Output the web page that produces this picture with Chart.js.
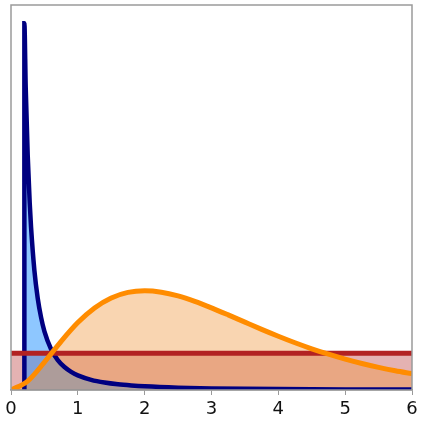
<!DOCTYPE html>
<html lang="en">
<head>
  <meta charset="UTF-8">
  <title>Distributions</title>
  <style>
    html, body { margin: 0; padding: 0; background: white; }
    #wrap { width: 423px; height: 423px; }
  </style>
</head>
<body>
  <div id="wrap"><canvas id="myChart" width="423" height="423"></canvas></div>

  <script src="https://cdn.jsdelivr.net/npm/chart.js"></script>
  <script>
    // values
    const paretoX = [0.2, 0.2, 0.22, 0.25, 0.28, 0.3, 0.35, 0.4, 0.45, 0.5, 0.6, 0.7, 0.8, 0.9, 1.0, 1.2, 1.4, 1.6, 1.8, 2.0, 2.5, 3.0, 3.5, 4.0, 5.0, 6.0];
    const paretoY = [0, 5.0, 4.13, 3.2, 2.55, 2.22, 1.63, 1.25, 0.99, 0.8, 0.556, 0.408, 0.313, 0.247, 0.2, 0.139, 0.102, 0.078, 0.062, 0.05, 0.032, 0.022, 0.016, 0.0125, 0.008, 0.0056];

    const gammaX = [0, 0.25, 0.5, 0.75, 1.0, 1.25, 1.5, 1.75, 2.0, 2.25, 2.5, 2.75, 3.0, 3.25, 3.5, 3.75, 4.0, 4.25, 4.5, 4.75, 5.0, 5.25, 5.5, 5.75, 6.0];
    const gammaY = [0, 0.122, 0.379, 0.664, 0.92, 1.119, 1.255, 1.331, 1.353, 1.334, 1.283, 1.209, 1.12, 1.024, 0.925, 0.827, 0.733, 0.644, 0.562, 0.488, 0.421, 0.362, 0.309, 0.263, 0.223];

    const flatX = [0, 6];
    const flatY = [0.5, 0.5];

    const xTicks = [0, 1, 2, 3, 4, 5, 6];

    const pts = (xs, ys) => xs.map((x, i) => ({ x, y: ys[i] }));

    const frame = {
      id: 'frame',
      afterDraw(chart) {
        const { ctx, chartArea: a } = chart;
        ctx.save();
        ctx.strokeStyle = '#9a9a9a';
        ctx.lineWidth = 1.5;
        ctx.strokeRect(a.left, a.top, a.right - a.left, a.bottom - a.top);
        ctx.restore();
      }
    };

    // shaded areas (drawn last-to-first: red, blue, orange) then the lines on top
    const area = (data, color) => ({
      data, backgroundColor: color, borderWidth: 0, fill: 'origin',
      cubicInterpolationMode: 'monotone'
    });
    const line = (data, color, w) => ({
      data, borderColor: color, borderWidth: w, fill: false,
      cubicInterpolationMode: 'monotone'
    });

    const ctx = document.getElementById('myChart');
    new Chart(ctx, {
      type: 'line',
      data: {
        datasets: [
          line(pts(gammaX, gammaY), '#ff8c00', 5),
          line(pts(flatX, flatY), '#b22222', 5),
          line(pts(paretoX, paretoY), '#000080', 4.5),
          area(pts(gammaX, gammaY), 'rgba(240,150,60,0.4)'),
          area(pts(paretoX, paretoY), 'rgba(30,144,255,0.5)'),
          area(pts(flatX, flatY), 'rgba(178,34,34,0.35)')
        ]
      },
      options: {
        responsive: false,
        animation: false,
        layout: { padding: { left: 11, right: 11, top: 5, bottom: 0 } },
        elements: { point: { radius: 0 } },
        plugins: {
          legend: { display: false },
          tooltip: { enabled: false },
          filler: { drawTime: 'beforeDatasetsDraw' }
        },
        scales: {
          x: {
            type: 'linear',
            min: 0,
            max: 6,
            afterBuildTicks: (s) => { s.ticks = xTicks.map(v => ({ value: v })); },
            afterFit: (s) => { s.height = 33; },
            grid: { drawOnChartArea: false, color: '#9a9a9a', tickLength: 5 },
            border: { color: '#9a9a9a', width: 1.5 },
            ticks: {
              color: '#111',
              padding: 4,
              maxRotation: 0,
              font: { family: 'DejaVu Sans', size: 18 }
            }
          },
          y: {
            display: false,
            min: 0,
            max: 5.25
          }
        }
      },
      plugins: [frame]
    });
  </script>
</body>
</html>
